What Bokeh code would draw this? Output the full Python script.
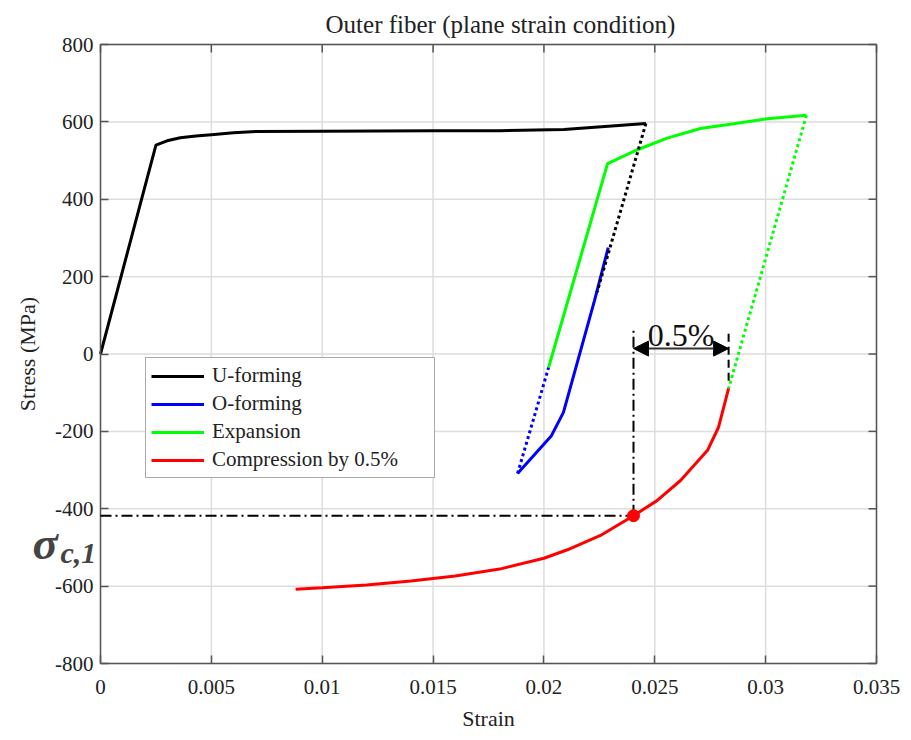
from bokeh.plotting import figure
from bokeh.models import (Range1d, FixedTicker, LinearAxis, Legend, LegendItem,
                          Label, Arrow, NormalHead)
from bokeh.embed import file_html
from bokeh.resources import INLINE

# ---- axis ticks ----
x_ticks = [0, 0.005, 0.01, 0.015, 0.02, 0.025, 0.03, 0.035]
x_tick_labels = ["0", "0.005", "0.01", "0.015", "0.02", "0.025", "0.03", "0.035"]
y_ticks = [-800, -600, -400, -200, 0, 200, 400, 600, 800]
y_tick_labels = ["-800", "-600", "-400", "-200", "0", "200", "400", "600", "800"]

# ---- U-forming (loading, then elastic unloading) ----
u_strain = [0, 0.0025, 0.0030, 0.0036, 0.0043, 0.0050, 0.0060, 0.0070, 0.0100,
            0.0150, 0.0180, 0.0209, 0.0246]
u_stress = [0, 540, 551, 559, 563.5, 567, 572, 575, 576, 577, 577, 580, 596]
u_unload_strain = [0.0246, 0.0224]
u_unload_stress = [596, 160]

# ---- O-forming ----
o_strain = [0.0229, 0.02228, 0.02088, 0.02034, 0.01881]
o_stress = [275, 138, -151, -211, -309]
o_unload_strain = [0.01881, 0.02021]
o_unload_stress = [-309, -35]

# ---- Expansion ----
e_strain = [0.02021, 0.02287, 0.02422, 0.02556, 0.02706, 0.02856, 0.03008, 0.03184]
e_stress = [-35, 492, 528, 558, 583, 595, 608, 617]
e_unload_strain = [0.03184, 0.02833]
e_unload_stress = [617, -89]

# ---- Compression by 0.5% ----
c_strain = [0.02833, 0.02787, 0.02738, 0.02616, 0.0251, 0.02404, 0.02255, 0.02106,
            0.0200, 0.0180, 0.0160, 0.0140, 0.0120, 0.0100, 0.0088]
c_stress = [-89, -190, -249, -327, -379, -418, -469, -506,
            -528, -556, -574, -587, -597, -604, -608]

# ---- compressive stress point and 0.5% offset ----
strain_c1 = 0.02404
sigma_c1 = -418
strain_offset_end = 0.02833
offset_text = "0.5%"

FONT = "Liberation Serif"
BLACK, BLUE, GREEN, RED = "#000000", "#0000ff", "#00ff00", "#ff0000"
AXIS_COLOR = "#555555"
GRID_COLOR = "#dddddd"
TEXT_COLOR = "#222222"

# The data frame fills the whole canvas; the axes sit at fixed data
# positions inside it so that the sigma annotation beside the stress
# axis is not clipped.
W, H = 911, 740
LEFT_PX, RIGHT_PX, TOP_PX, BOTTOM_PX = 100, 35, 44, 77
x0, x1 = x_ticks[0], x_ticks[-1]
y0, y1 = y_ticks[0], y_ticks[-1]
kx = (x1 - x0) / (W - LEFT_PX - RIGHT_PX)
ky = (y1 - y0) / (H - TOP_PX - BOTTOM_PX)

p = figure(width=W, height=H, output_backend="svg", toolbar_location=None,
           x_range=Range1d(x0 - LEFT_PX * kx, x1 + RIGHT_PX * kx),
           y_range=Range1d(y0 - BOTTOM_PX * ky, y1 + TOP_PX * ky),
           x_axis_location=None, y_axis_location=None, min_border=0)
p.background_fill_color = "white"
p.border_fill_color = "white"
p.outline_line_color = None
p.xgrid.visible = False
p.ygrid.visible = False

nx, ny = len(x_ticks), len(y_ticks)

# grid
p.segment(x0=x_ticks, y0=[y0] * nx, x1=x_ticks, y1=[y1] * nx,
          line_color=GRID_COLOR, line_width=1.5)
p.segment(x0=[x0] * ny, y0=y_ticks, x1=[x1] * ny, y1=y_ticks,
          line_color=GRID_COLOR, line_width=1.5)

LW = 3
DOT = "3 3"

r_o = p.line(o_strain, o_stress, color=BLUE, line_width=LW)
p.line(o_unload_strain, o_unload_stress, color=BLUE, line_width=LW, line_dash=DOT)
r_e = p.line(e_strain, e_stress, color=GREEN, line_width=LW)
p.line(e_unload_strain, e_unload_stress, color=GREEN, line_width=LW, line_dash=DOT)
r_c = p.line(c_strain, c_stress, color=RED, line_width=LW)
r_u = p.line(u_strain, u_stress, color=BLACK, line_width=LW)
p.line(u_unload_strain, u_unload_stress, color=BLACK, line_width=LW, line_dash=DOT)

# axes with labelled ticks, pinned to the lower-left corner of the box
axis_style = dict(axis_line_color=None, major_tick_line_color=AXIS_COLOR,
                  major_tick_line_width=1.5, major_tick_in=8, major_tick_out=0,
                  minor_tick_line_color=None, major_label_text_font=FONT,
                  major_label_text_font_size="21px",
                  major_label_text_color=TEXT_COLOR)
xa = LinearAxis(ticker=FixedTicker(ticks=x_ticks), fixed_location=y0,
                major_label_overrides=dict(zip(x_ticks, x_tick_labels)),
                major_label_standoff=16, **axis_style)
ya = LinearAxis(ticker=FixedTicker(ticks=y_ticks), fixed_location=x0,
                major_label_overrides=dict(zip(y_ticks, y_tick_labels)),
                major_label_standoff=7, **axis_style)
p.add_layout(xa, "below")
p.add_layout(ya, "left")

# inward ticks on the top and right sides
tick = dict(length=8, length_units="screen", angle_units="deg",
            line_color=AXIS_COLOR, line_width=1.5)
p.ray(x=x_ticks, y=[y1] * nx, angle=-90, **tick)
p.ray(x=[x1] * ny, y=y_ticks, angle=180, **tick)

# box
p.line([x0, x1, x1, x0, x0], [y0, y0, y1, y1, y0], line_color=AXIS_COLOR,
       line_width=1.5)

# titles
p.add_layout(Label(x=500, x_units="screen", y=H - 24, y_units="screen",
                   text="Outer fiber (plane strain condition)", text_align="center",
                   text_baseline="middle", text_font=FONT, text_font_size="25px",
                   text_color=TEXT_COLOR))
p.add_layout(Label(x=488, x_units="screen", y=22, y_units="screen", text="Strain",
                   text_align="center", text_baseline="middle", text_font=FONT,
                   text_font_size="22px", text_color=TEXT_COLOR))
p.add_layout(Label(x=27, x_units="screen", y=0, text="Stress (MPa)", angle=90,
                   angle_units="deg", text_align="center", text_baseline="middle",
                   text_font=FONT, text_font_size="22px", text_color=TEXT_COLOR))

# guide lines to the compressive stress point
p.line([x0, strain_c1], [sigma_c1, sigma_c1], color=BLACK, line_width=2,
       line_dash="11 4 2 4")
p.line([strain_c1, strain_c1], [sigma_c1, 61], color=BLACK, line_width=2,
       line_dash="11 4 2 4")
p.line([strain_offset_end, strain_offset_end], [-69, 61], color=BLACK, line_width=2,
       line_dash="8 5")
p.scatter([strain_c1], [sigma_c1], size=12, color=RED)

p.add_layout(Arrow(start=NormalHead(size=15, fill_color=BLACK, line_color=BLACK),
                   end=NormalHead(size=15, fill_color=BLACK, line_color=BLACK),
                   x_start=strain_c1, y_start=14, x_end=strain_offset_end, y_end=14,
                   line_width=2, line_color="#333333"))
p.add_layout(Label(x=(strain_c1 + strain_offset_end) / 2, y=48, text=offset_text,
                   text_font=FONT, text_font_size="32px", text_align="center",
                   text_baseline="alphabetic", text_color="#111111"))

# sigma_c,1 next to the stress axis
p.add_layout(Label(x=32, x_units="screen", y=-488, text="σ", text_font=FONT,
                   text_font_size="47px", text_font_style="bold italic",
                   text_baseline="alphabetic"))
p.add_layout(Label(x=60, x_units="screen", y=-513, text="c,1", text_font=FONT,
                   text_font_size="30px", text_font_style="bold italic",
                   text_baseline="alphabetic"))

legend = Legend(items=[LegendItem(label="U-forming", renderers=[r_u]),
                       LegendItem(label="O-forming", renderers=[r_o]),
                       LegendItem(label="Expansion", renderers=[r_e]),
                       LegendItem(label="Compression by 0.5%", renderers=[r_c])],
                location=(145, H - 478))
legend.label_text_font = FONT
legend.label_text_font_size = "21px"
legend.label_text_color = TEXT_COLOR
legend.glyph_width = 53
legend.glyph_height = 22
legend.label_height = 22
legend.label_width = 217
legend.label_standoff = 8
legend.spacing = 3
legend.padding = 5
legend.margin = 0
legend.border_line_color = AXIS_COLOR
legend.border_line_width = 1.5
legend.background_fill_alpha = 1.0
p.add_layout(legend)

open("out.html", "w").write(file_html(p, INLINE))
